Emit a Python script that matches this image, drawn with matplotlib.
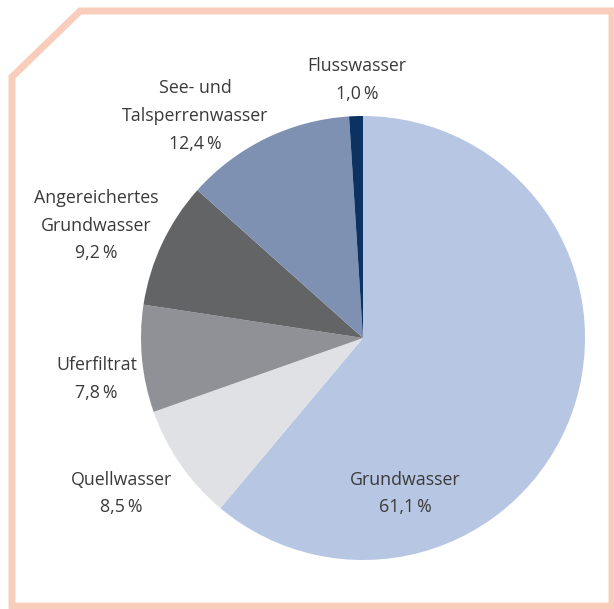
import matplotlib
matplotlib.use("Agg")
import matplotlib.pyplot as plt
from matplotlib.patches import Polygon

# data
sources = ["Grundwasser", "Quellwasser", "Uferfiltrat",
           "Angereichertes\nGrundwasser", "See- und\nTalsperrenwasser", "Flusswasser"]
shares = [61.1, 8.5, 7.8, 9.2, 12.4, 1.0]
colors = ["#b7c6e2", "#e0e1e4", "#8f9196", "#636466", "#7e91b3", "#0b3260"]

# label anchor points, in units of the pie radius
label_pos = [(0.19, -0.70), (-1.09, -0.70), (-1.20, -0.185),
             (-1.20, 0.505), (-0.757, 1.0), (-0.027, 1.162)]

W, H = 614, 609
fig = plt.figure(figsize=(W / 100, H / 100), dpi=100)

# salmon frame with cut corner
frame_px = [(12, 77), (80, 11), (612, 11), (612, 606), (12, 606)]
frame = Polygon([(x / W, 1 - y / H) for x, y in frame_px], closed=True,
                fill=False, edgecolor="#f9cdbb", linewidth=5,
                joinstyle="miter", transform=fig.transFigure)
fig.patches.append(frame)

cx, cy, r = 363, 338, 222
ax = fig.add_axes([(cx - r) / W, (H - cy - r) / H, 2 * r / W, 2 * r / H])
ax.pie(shares, colors=colors, startangle=90, counterclock=False,
       wedgeprops=dict(linewidth=0))
ax.set_xlim(-1, 1)
ax.set_ylim(-1, 1)
ax.set_aspect("equal")
ax.axis("off")

for name, val, (lx, ly) in zip(sources, shares, label_pos):
    txt = name + "\n" + f"{val:.1f}".replace(".", ",") + "\u2009%"
    ax.text(lx, ly, txt, ha="center", va="center", multialignment="center",
            fontsize=12.8, linespacing=1.68, color="#3a3a3a",
            family=["Open Sans", "DejaVu Sans"], clip_on=False)

fig.savefig("out.png", dpi=100)
